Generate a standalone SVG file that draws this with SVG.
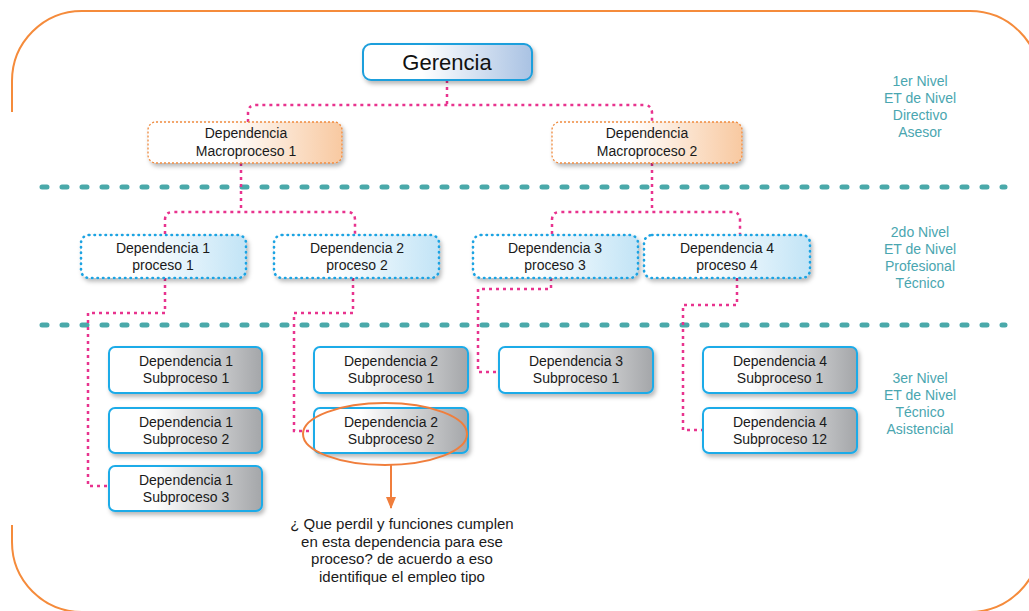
<svg xmlns="http://www.w3.org/2000/svg" width="1029" height="611" viewBox="0 0 1029 611">
  <defs>
    <linearGradient id="gGer" x1="0" y1="0" x2="1" y2="0">
      <stop offset="0.35" stop-color="#ffffff"/>
      <stop offset="1" stop-color="#a9c2e3"/>
    </linearGradient>
    <linearGradient id="gMacro" x1="0" y1="0" x2="1" y2="0">
      <stop offset="0.4" stop-color="#ffffff"/>
      <stop offset="1" stop-color="#f8c9a1"/>
    </linearGradient>
    <linearGradient id="gProc" x1="0" y1="0" x2="1" y2="0">
      <stop offset="0.35" stop-color="#ffffff"/>
      <stop offset="1" stop-color="#c2e4f6"/>
    </linearGradient>
    <linearGradient id="gSub" x1="0" y1="0" x2="1" y2="0">
      <stop offset="0.3" stop-color="#ffffff"/>
      <stop offset="1" stop-color="#a4a6a9"/>
    </linearGradient>
    <filter id="shadow" x="-10%" y="-20%" width="125%" height="150%">
      <feDropShadow dx="2" dy="3" stdDeviation="2" flood-color="#000" flood-opacity="0.28"/>
    </filter>
    <marker id="arrow" viewBox="0 0 12 10" refX="11" refY="5" markerWidth="12" markerHeight="10" markerUnits="userSpaceOnUse" orient="auto">
      <path d="M0,0 L12,5 L0,10 Z" fill="#f07e3c"/>
    </marker>
    <style>
      text { font-family: "Liberation Sans", Arial, sans-serif; }
      .t { font-size: 14px; fill: #1a1a1a; text-anchor: middle; }
      .q { font-size: 15px; fill: #1a1a1a; text-anchor: middle; }
      .lvl { font-size: 14px; fill: #4aa6b0; text-anchor: middle; }
      .ger { fill: url(#gGer); stroke: #1d9fdc; stroke-width: 2; filter: url(#shadow); }
      .macro { fill: url(#gMacro); stroke: #ef8a3e; stroke-width: 1.3; stroke-dasharray: 2 2; filter: url(#shadow); }
      .proc { fill: url(#gProc); stroke: #1ea3e2; stroke-width: 2.6; stroke-dasharray: 0.5 5; stroke-linecap: round; filter: url(#shadow); }
      .sub { fill: url(#gSub); stroke: #1eabe8; stroke-width: 2; filter: url(#shadow); }
      .conn { fill: none; stroke: #e8338e; stroke-width: 2.5; stroke-dasharray: 3 4; }
      .sep { fill: none; stroke: #4aa9aa; stroke-width: 5; stroke-dasharray: 5 15; stroke-linecap: round; }
    </style>
  </defs>

  <rect width="1029" height="611" fill="#ffffff"/>

  <!-- outer frame -->
  <path d="M12,525 V542 A70,70 0 0 0 82,612 H970 A70,70 0 0 0 1040,542 V81 A70,70 0 0 0 970,11 H82 A70,70 0 0 0 12,81 V112" fill="none" stroke="#f58b3b" stroke-width="2"/>

  <!-- level separators -->
  <g id="separators">
    <line class="sep" x1="42" y1="187" x2="1005" y2="187"/>
    <line class="sep" x1="42" y1="325" x2="1005" y2="325"/>
  </g>

  <!-- connectors -->
  <g id="connectors">
    <path class="conn" d="M447,80 V105 M248,122 V113 Q248,105 256,105 H644 Q652,105 652,113 V122"/>
    <path class="conn" d="M241,163 V212 M165,234 V220 Q165,212 173,212 H347 Q355,212 355,220 V234"/>
    <path class="conn" d="M652,163 V212 M552,234 V220 Q552,212 560,212 H732 Q740,212 740,220 V234"/>
    <path class="conn" d="M165,278 V313 H88 V486 H108"/>
    <path class="conn" d="M353,278 V313 H294 V431 H314"/>
    <path class="conn" d="M551,278 V289 H478 V372 H498"/>
    <path class="conn" d="M737,278 V305 H683 V430 H702"/>
  </g>

  <!-- top level -->
  <g id="gerencia">
    <rect class="ger" x="363" y="44" width="169" height="36" rx="8"/>
    <text x="447" y="70" text-anchor="middle" font-size="22" fill="#111">Gerencia</text>
  </g>

  <g id="macro1">
    <rect class="macro" x="148" y="122" width="194" height="41" rx="8"/>
    <text class="t" x="246" y="138">Dependencia</text>
    <text class="t" x="246" y="156">Macroproceso 1</text>
  </g>
  <g id="macro2">
    <rect class="macro" x="552" y="122" width="190" height="41" rx="8"/>
    <text class="t" x="647" y="138">Dependencia</text>
    <text class="t" x="647" y="156">Macroproceso 2</text>
  </g>

  <!-- second level -->
  <g id="proc1">
    <rect class="proc" x="81" y="235" width="165" height="43" rx="8"/>
    <text class="t" x="163" y="253">Dependencia 1</text>
    <text class="t" x="163" y="270">proceso 1</text>
  </g>
  <g id="proc2">
    <rect class="proc" x="274" y="235" width="165" height="43" rx="8"/>
    <text class="t" x="357" y="253">Dependencia 2</text>
    <text class="t" x="357" y="270">proceso 2</text>
  </g>
  <g id="proc3">
    <rect class="proc" x="473" y="235" width="165" height="43" rx="8"/>
    <text class="t" x="555" y="253">Dependencia 3</text>
    <text class="t" x="555" y="270">proceso 3</text>
  </g>
  <g id="proc4">
    <rect class="proc" x="644" y="235" width="166" height="43" rx="8"/>
    <text class="t" x="727" y="253">Dependencia 4</text>
    <text class="t" x="727" y="270">proceso 4</text>
  </g>

  <!-- third level -->
  <g id="sub1-1">
    <rect class="sub" x="109" y="347" width="153" height="46" rx="6"/>
    <text class="t" x="186" y="366">Dependencia 1</text>
    <text class="t" x="186" y="383">Subproceso 1</text>
  </g>
  <g id="sub1-2">
    <rect class="sub" x="109" y="408" width="153" height="45" rx="6"/>
    <text class="t" x="186" y="427">Dependencia 1</text>
    <text class="t" x="186" y="444">Subproceso 2</text>
  </g>
  <g id="sub1-3">
    <rect class="sub" x="109" y="466" width="153" height="45" rx="6"/>
    <text class="t" x="186" y="485">Dependencia 1</text>
    <text class="t" x="186" y="502">Subproceso 3</text>
  </g>
  <g id="sub2-1">
    <rect class="sub" x="314" y="347" width="154" height="46" rx="6"/>
    <text class="t" x="391" y="366">Dependencia 2</text>
    <text class="t" x="391" y="383">Subproceso 1</text>
  </g>
  <g id="sub2-2">
    <rect class="sub" x="314" y="408" width="154" height="45" rx="6"/>
    <text class="t" x="391" y="427">Dependencia 2</text>
    <text class="t" x="391" y="444">Subproceso 2</text>
  </g>
  <g id="sub3-1">
    <rect class="sub" x="499" y="347" width="154" height="46" rx="6"/>
    <text class="t" x="576" y="366">Dependencia 3</text>
    <text class="t" x="576" y="383">Subproceso 1</text>
  </g>
  <g id="sub4-1">
    <rect class="sub" x="703" y="347" width="154" height="46" rx="6"/>
    <text class="t" x="780" y="366">Dependencia 4</text>
    <text class="t" x="780" y="383">Subproceso 1</text>
  </g>
  <g id="sub4-12">
    <rect class="sub" x="703" y="408" width="154" height="45" rx="6"/>
    <text class="t" x="780" y="427">Dependencia 4</text>
    <text class="t" x="780" y="444">Subproceso 12</text>
  </g>

  <!-- highlight and question -->
  <g id="highlight">
    <ellipse cx="385" cy="434" rx="82" ry="31" fill="none" stroke="#f07e3c" stroke-width="2"/>
    <line x1="391" y1="465" x2="391" y2="508" stroke="#f07e3c" stroke-width="2" marker-end="url(#arrow)"/>
    <text class="q" x="402" y="529">¿ Que perdil y funciones cumplen</text>
    <text class="q" x="402" y="547">en esta dependencia para ese</text>
    <text class="q" x="402" y="564">proceso? de acuerdo a eso</text>
    <text class="q" x="402" y="582">identifique el empleo tipo</text>
  </g>

  <!-- level labels -->
  <g id="level1">
    <text class="lvl" x="920" y="86">1er Nivel</text>
    <text class="lvl" x="920" y="103">ET de Nivel</text>
    <text class="lvl" x="920" y="120">Directivo</text>
    <text class="lvl" x="920" y="137">Asesor</text>
  </g>
  <g id="level2">
    <text class="lvl" x="920" y="237">2do Nivel</text>
    <text class="lvl" x="920" y="254">ET de Nivel</text>
    <text class="lvl" x="920" y="271">Profesional</text>
    <text class="lvl" x="920" y="288">Técnico</text>
  </g>
  <g id="level3">
    <text class="lvl" x="920" y="383">3er Nivel</text>
    <text class="lvl" x="920" y="400">ET de Nivel</text>
    <text class="lvl" x="920" y="417">Técnico</text>
    <text class="lvl" x="920" y="434">Asistencial</text>
  </g>
</svg>
